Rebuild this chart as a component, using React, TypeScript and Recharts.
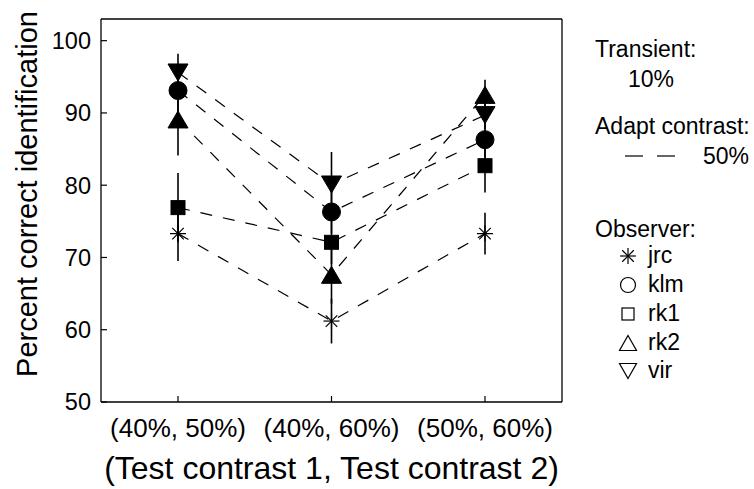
import React from "react";
import { ComposedChart, Line, XAxis, YAxis, ErrorBar, Label } from "recharts";

// conditions on the x axis
const categories = ["(40%, 50%)", "(40%, 60%)", "(50%, 60%)"];
const yTicks = [50, 60, 70, 80, 90, 100];

// percent correct per observer, one value per condition
const jrc = [73.3, 61.2, 73.3];
const klm = [93.1, 76.3, 86.3];
const rk1 = [76.9, 72.1, 82.7];
const rk2 = [89.1, 67.6, 92.5];
const vir = [95.6, 80.1, 89.7];

// error bar half-lengths
const jrcErr = [3.8, 3.1, 2.9];
const klmErr = [3.0, 3.0, 2.5];
const rk1Err = [4.8, 3.0, 3.7];
const rk2Err = [5.0, 4.0, 2.1];
const virErr = [2.6, 4.5, 2.0];

const observers = [
  { name: "jrc", values: jrc, errs: jrcErr, shape: "star" },
  { name: "klm", values: klm, errs: klmErr, shape: "circle" },
  { name: "rk1", values: rk1, errs: rk1Err, shape: "square" },
  { name: "rk2", values: rk2, errs: rk2Err, shape: "up" },
  { name: "vir", values: vir, errs: virErr, shape: "down" },
];

const data = categories.map((cat, i) => {
  const row: Record<string, string | number> = { cat };
  observers.forEach((o) => {
    row[o.name] = o.values[i];
    row[o.name + "Err"] = o.errs[i];
  });
  return row;
});

function Marker({ cx, cy, shape, filled }: { cx: number; cy: number; shape: string; filled: boolean }) {
  if (cx == null || cy == null) return null;
  const fill = filled ? "#000" : "none";
  const sw = filled ? 1 : 1.2;
  if (shape === "star") {
    const r = 8;
    const d = r * 0.72;
    return (
      <g stroke="#000" strokeWidth={1.2}>
        <line x1={cx - r} y1={cy} x2={cx + r} y2={cy} />
        <line x1={cx} y1={cy - r} x2={cx} y2={cy + r} />
        <line x1={cx - d} y1={cy - d} x2={cx + d} y2={cy + d} />
        <line x1={cx - d} y1={cy + d} x2={cx + d} y2={cy - d} />
      </g>
    );
  }
  if (shape === "circle") {
    return <circle cx={cx} cy={cy} r={filled ? 9 : 7.5} fill={fill} stroke="#000" strokeWidth={sw} />;
  }
  if (shape === "square") {
    const h = filled ? 7 : 6;
    return <rect x={cx - h} y={cy - h} width={2 * h} height={2 * h} fill={fill} stroke="#000" strokeWidth={sw} />;
  }
  const w = filled ? 10 : 8.5;
  const h = filled ? 8.5 : 7.5;
  const pts =
    shape === "up"
      ? `${cx},${cy - h} ${cx + w},${cy + h} ${cx - w},${cy + h}`
      : `${cx},${cy + h} ${cx + w},${cy - h} ${cx - w},${cy - h}`;
  return <polygon points={pts} fill={fill} stroke="#000" strokeWidth={sw} strokeLinejoin="miter" />;
}

function Legend() {
  const rows = [263, 292, 321, 350, 378];
  return (
    <svg width={754} height={489} style={{ position: "absolute", left: 0, top: 0, pointerEvents: "none" }}>
      <g fontSize={23} fill="#000">
        <text x={595} y={57}>Transient:</text>
        <text x={628} y={87}>10%</text>
        <text x={595} y={134}>Adapt contrast:</text>
        <line x1={625} y1={156} x2={643} y2={156} stroke="#000" strokeWidth={1.2} />
        <line x1={657} y1={156} x2={675} y2={156} stroke="#000" strokeWidth={1.2} />
        <text x={703} y={164}>50%</text>
        <text x={595} y={237}>Observer:</text>
        {observers.map((o, i) => (
          <g key={o.name}>
            <Marker cx={628} cy={rows[i] - 7} shape={o.shape} filled={false} />
            <text x={648} y={rows[i]}>{o.name}</text>
          </g>
        ))}
      </g>
    </svg>
  );
}

export default function App() {
  return (
    <div style={{ position: "absolute", left: 0, top: 0, width: 754, height: 489, background: "#fff", fontFamily: "'Liberation Sans', Arial, sans-serif" }}>
      <ComposedChart width={754} height={489} data={data} margin={{ top: 18, right: 191, bottom: 0, left: 0 }}>
        <XAxis
          dataKey="cat"
          interval={0}
          height={87}
          padding={{ left: 77, right: 77 }}
          tickSize={-6}
          tickMargin={23}
          axisLine={{ stroke: "#000", strokeWidth: 1.3 }}
          tickLine={{ stroke: "#000", strokeWidth: 1.2 }}
          tick={{ fontSize: 26, fill: "#000" }}
        >
          <Label
            content={({ viewBox }: any) => (
              <text x={viewBox.x + viewBox.width / 2} y={479} textAnchor="middle" fontSize={32} fill="#000">
                (Test contrast 1, Test contrast 2)
              </text>
            )}
          />
        </XAxis>
        <XAxis
          xAxisId="top"
          dataKey="cat"
          orientation="top"
          interval={0}
          height={1}
          padding={{ left: 77, right: 77 }}
          tickSize={-6}
          tick={false}
          axisLine={{ stroke: "#000", strokeWidth: 1.3 }}
          tickLine={{ stroke: "#000", strokeWidth: 1.2 }}
        />
        <YAxis
          type="number"
          domain={[50, 103]}
          ticks={yTicks}
          allowDataOverflow
          width={101}
          tickSize={-6}
          tickMargin={16}
          axisLine={{ stroke: "#000", strokeWidth: 1.3 }}
          tickLine={{ stroke: "#000", strokeWidth: 1.2 }}
          tick={{ fontSize: 23.5, fill: "#000" }}
        >
          <Label
            content={() => (
              <text x={0} y={0} transform="translate(37,194) rotate(-90)" textAnchor="middle" fontSize={29} fill="#000">
                Percent correct identification
              </text>
            )}
          />
        </YAxis>
        <YAxis
          yAxisId="right"
          orientation="right"
          type="number"
          domain={[50, 103]}
          ticks={yTicks}
          allowDataOverflow
          width={1}
          tickSize={-6}
          tick={false}
          axisLine={{ stroke: "#000", strokeWidth: 1.3 }}
          tickLine={{ stroke: "#000", strokeWidth: 1.2 }}
        />
        {observers.map((o) => (
          <Line
            key={o.name}
            dataKey={o.name}
            stroke="#000"
            strokeWidth={1.2}
            strokeDasharray="12 11"
            isAnimationActive={false}
            activeDot={false}
            dot={(p: any) => <Marker key={`${o.name}-${p.index}`} cx={p.cx} cy={p.cy} shape={o.shape} filled />}
          >
            <ErrorBar dataKey={o.name + "Err"} direction="y" width={0} stroke="#000" strokeWidth={1.6} isAnimationActive={false} />
          </Line>
        ))}
      </ComposedChart>
      <Legend />
    </div>
  );
}
